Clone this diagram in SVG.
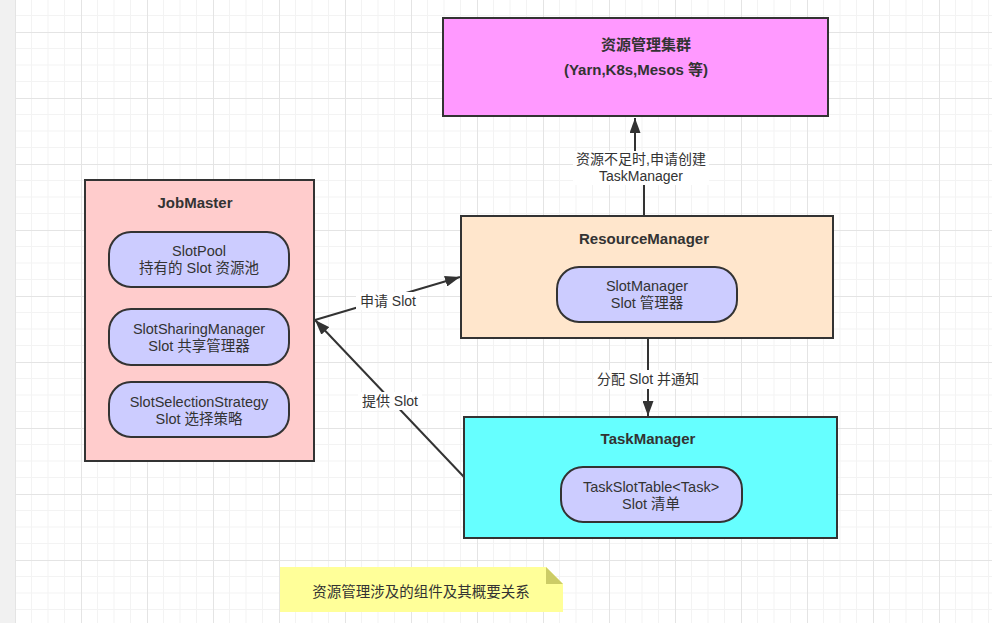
<svg xmlns="http://www.w3.org/2000/svg" width="992" height="623" viewBox="0 0 992 623">
  <defs>
    <pattern id="grid" x="15" y="32" width="66" height="66" patternUnits="userSpaceOnUse">
      <path d="M16.5 0 V66 M33 0 V66 M49.5 0 V66 M0 16.5 H66 M0 33 H66 M0 49.5 H66" stroke="#f3f3f3" stroke-width="1" fill="none"/>
      <path d="M0.5 0 V66 M0 0.5 H66" stroke="#e4e4e4" stroke-width="1" fill="none"/>
    </pattern>
    <marker id="arrow" markerUnits="userSpaceOnUse" markerWidth="16" markerHeight="11" refX="15" refY="5.5" orient="auto">
      <path d="M0,0 L15,5.5 L0,11 Z" fill="#333333"/>
    </marker>
    <style>
      .box { stroke: #333333; stroke-width: 2; }
      .pill { fill: #ccccff; stroke: #333333; stroke-width: 2; }
      .title { font-family: "Liberation Sans", "Noto Sans CJK SC", sans-serif; font-size: 15px; font-weight: bold; fill: #333333; text-anchor: middle; }
      .txt { font-family: "Liberation Sans", "Noto Sans CJK SC", sans-serif; font-size: 14.5px; fill: #333333; text-anchor: middle; }
      .lbl { font-family: "Liberation Sans", "Noto Sans CJK SC", sans-serif; font-size: 14px; fill: #333333; text-anchor: middle; }
      .edge { fill: none; stroke: #333333; stroke-width: 2; }
      .lblbg { fill: #ffffff; }
    </style>
  </defs>

  <rect x="0" y="0" width="992" height="623" fill="#ffffff"/>
  <rect x="15" y="0" width="977" height="623" fill="url(#grid)"/>
  <rect x="0" y="0" width="15" height="623" fill="#f1f1f1"/>

  <g id="connectors">
    <path class="edge" d="M644,216 V168 H635 V118" marker-end="url(#arrow)"/>
    <rect class="lblbg" x="573" y="151" width="136" height="34"/>
    <text class="lbl" x="641" y="164">资源不足时,申请创建</text>
    <text class="lbl" x="641" y="181">TaskManager</text>

    <path class="edge" d="M648,338 V416" marker-end="url(#arrow)"/>
    <rect class="lblbg" x="594" y="370" width="109" height="19"/>
    <text class="lbl" x="648" y="384">分配 Slot 并通知</text>

    <path class="edge" d="M315,320 L460,277" marker-end="url(#arrow)"/>
    <rect class="lblbg" x="356" y="292" width="64" height="18"/>
    <text class="lbl" x="388" y="306">申请 Slot</text>

    <path class="edge" d="M464,477 L315,320" marker-end="url(#arrow)"/>
    <rect class="lblbg" x="358" y="392" width="64" height="18"/>
    <text class="lbl" x="390" y="406">提供 Slot</text>
  </g>

  <g id="cluster">
    <rect class="box" x="443" y="18" width="385" height="98" fill="#ff99ff"/>
    <text class="title" x="646" y="50">资源管理集群</text>
    <text class="title" x="636" y="75">(Yarn,K8s,Mesos 等)</text>
  </g>

  <g id="resourcemanager">
    <rect class="box" x="461" y="216" width="372" height="122" fill="#ffe6cc"/>
    <text class="title" x="644" y="244">ResourceManager</text>
  </g>

  <g id="slotmanager">
    <rect class="pill" x="557" y="267" width="180" height="55" rx="22" ry="22"/>
    <text class="txt" x="647" y="291">SlotManager</text>
    <text class="txt" x="647" y="308">Slot 管理器</text>
  </g>

  <g id="taskmanager">
    <rect class="box" x="464" y="417" width="373" height="121" fill="#66ffff"/>
    <text class="title" x="648" y="444">TaskManager</text>
  </g>

  <g id="taskslottable">
    <rect class="pill" x="561" y="467" width="181" height="55" rx="22" ry="22"/>
    <text class="txt" x="651" y="492">TaskSlotTable&lt;Task&gt;</text>
    <text class="txt" x="651" y="509">Slot 清单</text>
  </g>

  <g id="jobmaster">
    <rect class="box" x="85" y="180" width="229" height="281" fill="#ffcccc"/>
    <text class="title" x="195" y="208">JobMaster</text>
  </g>

  <g id="slotpool">
    <rect class="pill" x="109" y="232" width="180" height="55" rx="22" ry="22"/>
    <text class="txt" x="199" y="256">SlotPool</text>
    <text class="txt" x="199" y="273">持有的 Slot 资源池</text>
  </g>

  <g id="slotsharingmanager">
    <rect class="pill" x="109" y="309" width="180" height="56" rx="22" ry="22"/>
    <text class="txt" x="199" y="334">SlotSharingManager</text>
    <text class="txt" x="199" y="351">Slot 共享管理器</text>
  </g>

  <g id="slotselectionstrategy">
    <rect class="pill" x="109" y="382" width="180" height="55" rx="22" ry="22"/>
    <text class="txt" x="199" y="407">SlotSelectionStrategy</text>
    <text class="txt" x="199" y="424">Slot 选择策略</text>
  </g>

  <g id="note">
    <path d="M280,567 H546 L563,584 V612 H280 Z" fill="#ffff99"/>
    <path d="M546,567 L563,584 H546 Z" fill="#cccc66"/>
    <text class="txt" x="421" y="597">资源管理涉及的组件及其概要关系</text>
  </g>
</svg>
